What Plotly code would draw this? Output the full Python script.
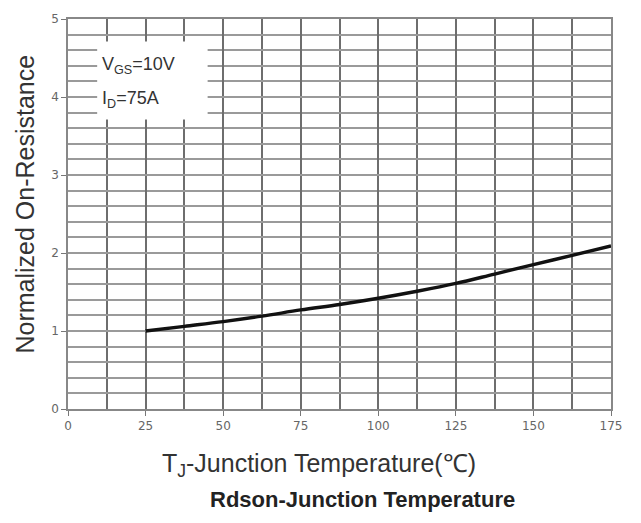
import plotly.graph_objects as go

temp = [25, 37.5, 50, 62.5, 75, 87.5, 100, 112.5, 125, 137.5, 150, 162.5, 175]
rdson = [1.0, 1.06, 1.12, 1.19, 1.27, 1.34, 1.42, 1.51, 1.61, 1.73, 1.85, 1.97, 2.09]
x_ticks = [0, 25, 50, 75, 100, 125, 150, 175]
y_ticks = [0, 1, 2, 3, 4, 5]

W, H = 641, 523
L, R, T, B = 68, 30, 16, 114
PW, PH = W - L - R, H - T - B


def px(x):
    return (x - L) / PW


def py(y):
    return (H - B - y) / PH


fig = go.Figure()
fig.add_trace(go.Scatter(x=temp, y=rdson, mode="lines",
                         line=dict(color="#111111", width=3.4, shape="spline"),
                         showlegend=False, hoverinfo="skip"))

grid_h = "#9a9a9a"
grid_v = "#6e6e6e"
tickfont = dict(family="DejaVu Sans", size=12, color="#666666")

fig.update_layout(
    width=W, height=H,
    margin=dict(l=L, r=R, t=T, b=B),
    paper_bgcolor="white", plot_bgcolor="white",
    xaxis=dict(range=[0, 175], tickvals=x_ticks, ticktext=[str(v) for v in x_ticks],
               showgrid=True, gridcolor=grid_v, gridwidth=1.5,
               minor=dict(dtick=12.5, tick0=0, showgrid=True, gridcolor=grid_v, gridwidth=1.5),
               ticks="outside", ticklen=5, tickcolor="#777777", tickwidth=1,
               tickfont=tickfont, zeroline=False,
               showline=True, linecolor="#888888", linewidth=1.5, mirror=True),
    yaxis=dict(range=[0, 5], tickvals=y_ticks, ticktext=[str(v) for v in y_ticks],
               showgrid=True, gridcolor=grid_h, gridwidth=1.8,
               minor=dict(dtick=0.2, tick0=0, showgrid=True, gridcolor=grid_h, gridwidth=1.8),
               ticks="outside", ticklen=5, tickcolor="#777777", tickwidth=1,
               tickfont=tickfont, zeroline=False,
               showline=True, linecolor="#888888", linewidth=1.5, mirror=True),
)

# white label box over the grid
fig.add_shape(type="rect", xref="x", yref="y", x0=9.4, x1=45, y0=3.71, y1=4.71,
              fillcolor="white", line=dict(width=0), layer="above")

fig.add_annotation(x=10.2, y=4.4, xref="x", yref="y", xanchor="left", yanchor="middle",
                   text="V<sub>GS</sub>=10V", showarrow=False,
                   font=dict(family="Liberation Sans", size=18, color="#333333"))
fig.add_annotation(x=10.2, y=3.97, xref="x", yref="y", xanchor="left", yanchor="middle",
                   text="I<sub>D</sub>=75A", showarrow=False,
                   font=dict(family="Liberation Sans", size=18, color="#333333"))

# axis titles
fig.add_annotation(x=px(319), y=py(465), xref="paper", yref="paper",
                   xanchor="center", yanchor="middle", showarrow=False,
                   text="T<sub>J</sub>-Junction Temperature(℃)",
                   font=dict(family="Liberation Sans", size=25, color="#333333"))
fig.add_annotation(x=px(362), y=py(500), xref="paper", yref="paper",
                   xanchor="center", yanchor="middle", showarrow=False,
                   text="<b>Rdson-Junction Temperature</b>",
                   font=dict(family="Liberation Sans", size=22, color="#222222"))
fig.add_annotation(x=px(25), y=py(203), xref="paper", yref="paper",
                   xanchor="center", yanchor="middle", showarrow=False, textangle=-90,
                   text="Normalized On-Resistance",
                   font=dict(family="Liberation Sans", size=25, color="#333333"))

fig.write_html("out.html")
